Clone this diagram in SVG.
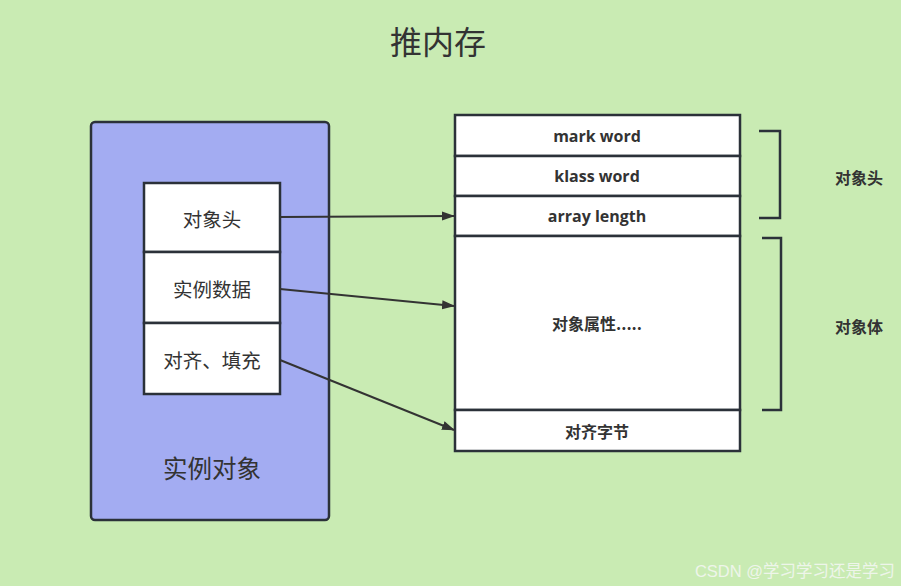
<svg xmlns="http://www.w3.org/2000/svg" width="901" height="586" viewBox="0 0 901 586">
<style>
.box{fill:#ffffff;stroke:#2b3139;stroke-width:2.5}
.t{font-family:"Noto Sans CJK SC","Liberation Sans",sans-serif;fill:#333;text-anchor:middle;dominant-baseline:central}
.b{font-family:"Open Sans","Noto Sans CJK SC",sans-serif;font-weight:bold;font-size:16px;fill:#333;text-anchor:middle;dominant-baseline:central}
.bc{font-family:"Noto Sans CJK SC",sans-serif;font-weight:bold;font-size:16px;fill:#333;text-anchor:middle;dominant-baseline:central}
.c{stroke:#333;stroke-width:2;fill:none}
.br{stroke:#2b3139;stroke-width:2.5;fill:none}
</style>
<defs>
<marker id="ah" markerWidth="13" markerHeight="10" refX="12" refY="5" orient="auto" markerUnits="userSpaceOnUse" viewBox="0 0 13 10">
<path d="M0,0.5 L13,5 L0,9.5 Z" fill="#333"/>
</marker>
</defs>
<rect width="901" height="586" fill="#c9ebb3"/>
<text class="t" x="438" y="40" font-size="32">推内存</text>
<g id="instance">
<rect x="91" y="122" width="238" height="398" rx="4" fill="#a3acf2" stroke="#2b3139" stroke-width="2.5"/>
<text class="t" x="212" y="467" font-size="24.5">实例对象</text>
</g>
<g id="header">
<rect class="box" x="144" y="183" width="136" height="69"/>
<text class="t" x="212" y="218" font-size="19.5">对象头</text>
</g>
<g id="data">
<rect class="box" x="144" y="252" width="136" height="71"/>
<text class="t" x="212" y="288" font-size="19.5">实例数据</text>
</g>
<g id="padding">
<rect class="box" x="144" y="323" width="136" height="71"/>
<text class="t" x="212" y="359" font-size="19.5">对齐、填充</text>
</g>
<g id="markword">
<rect class="box" x="455" y="115" width="285" height="41"/>
<text class="b" x="597" y="136">mark word</text>
</g>
<g id="klassword">
<rect class="box" x="455" y="156" width="285" height="40"/>
<text class="b" x="597" y="176">klass word</text>
</g>
<g id="arraylength">
<rect class="box" x="455" y="196" width="285" height="40"/>
<text class="b" x="597" y="216">array length</text>
</g>
<g id="fields">
<rect class="box" x="455" y="236" width="285" height="174"/>
<text class="bc" x="597" y="323">对象属性.....</text>
</g>
<g id="align">
<rect class="box" x="455" y="410" width="285" height="41"/>
<text class="bc" x="597" y="431">对齐字节</text>
</g>
<g id="headbrace">
<path class="br" d="M759,131 H780 V218 H759"/>
<text class="bc" x="859" y="177">对象头</text>
</g>
<g id="bodybrace">
<path class="br" d="M762,238 H781 V410 H762"/>
<text class="bc" x="859" y="326">对象体</text>
</g>
<g id="connectors">
<path class="c" d="M280,217 L454,216" marker-end="url(#ah)"/>
<path class="c" d="M280,289 L454,306" marker-end="url(#ah)"/>
<path class="c" d="M280,360 L454,430" marker-end="url(#ah)"/>
</g>
<text x="895" y="571" font-family="Liberation Sans,Noto Sans CJK SC,sans-serif" font-size="16.5" fill="#eef5ea" text-anchor="end" dominant-baseline="central">CSDN @学习学习还是学习</text>
</svg>
